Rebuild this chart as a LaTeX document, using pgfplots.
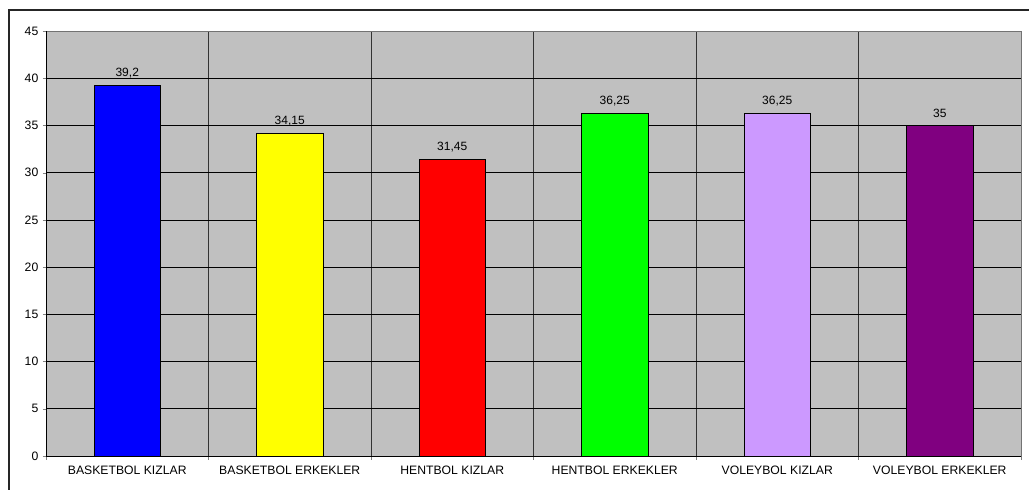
\documentclass[border=0pt]{standalone}
\usepackage{pgfplots}
\pgfplotsset{compat=1.18}
\usepackage{fontspec}
\setmainfont{Liberation Sans}
\definecolor{bgc}{HTML}{C0C0C0}
\definecolor{lav}{HTML}{CC99FF}
\definecolor{pur}{HTML}{800080}
\definecolor{yel}{HTML}{FFFF00}
\definecolor{grn}{HTML}{00FF00}
\definecolor{blu}{HTML}{0000FF}
\definecolor{rd}{HTML}{FF0000}
\begin{document}
\fontsize{12bp}{14bp}\selectfont
\begin{tikzpicture}[x=1bp,y=1bp]
\useasboundingbox (0,0) rectangle (1029,490);
\draw[line width=1.2bp,black!85] (9,0) -- (9,480) -- (1029,480);
\begin{axis}[
  at={(46bp,34bp)}, anchor=south west,
  scale only axis, width=975bp, height=425bp,
  xmin=-0.5, xmax=5.5, ymin=0, ymax=45,
  ytick={0,5,...,45},
  xtick={0,...,5},
  xticklabels={BASKETBOL KIZLAR,BASKETBOL ERKEKLER,HENTBOL KIZLAR,HENTBOL ERKEKLER,VOLEYBOL KIZLAR,VOLEYBOL ERKEKLER},
  minor xtick={-0.5,0.5,1.5,2.5,3.5,4.5,5.5},
  xtick pos=left, ytick pos=left,
  tick align=outside,
  major tick length=3.5bp, minor tick length=4bp,
  major x tick style={draw=none},
  ymajorgrids, xminorgrids,
  grid style={black, line width=0.7bp},
  minor grid style={black!80, line width=0.7bp},
  axis line style={draw=black!55, line width=0.8bp},
  axis background/.style={fill=bgc},
  tick label style={font=\fontsize{12.2bp}{14bp}\selectfont},
  xticklabel style={yshift=-2bp},
  /pgf/number format/assume math mode=true,
  /pgf/number format/use comma,
  ybar, bar shift=0pt, bar width=0.41,
  nodes near coords,
  every node near coord/.append style={font=\fontsize{12bp}{14bp}\selectfont, yshift=3bp},
  clip=false,
]
\addplot[fill=blu, draw=black, line width=0.8bp] coordinates {(0,39.2)};
\addplot[fill=yel, draw=black, line width=0.8bp] coordinates {(1,34.15)};
\addplot[fill=rd, draw=black, line width=0.8bp] coordinates {(2,31.45)};
\addplot[fill=grn, draw=black, line width=0.8bp] coordinates {(3,36.25)};
\addplot[fill=lav, draw=black, line width=0.8bp] coordinates {(4,36.25)};
\addplot[fill=pur, draw=black, line width=0.8bp] coordinates {(5,35)};
\draw[black, line width=0.8bp] (rel axis cs:0,0) -- (rel axis cs:0,1);
\draw[black, line width=0.8bp] (rel axis cs:0,0) -- (rel axis cs:1,0);
\end{axis}
\end{tikzpicture}
\end{document}
